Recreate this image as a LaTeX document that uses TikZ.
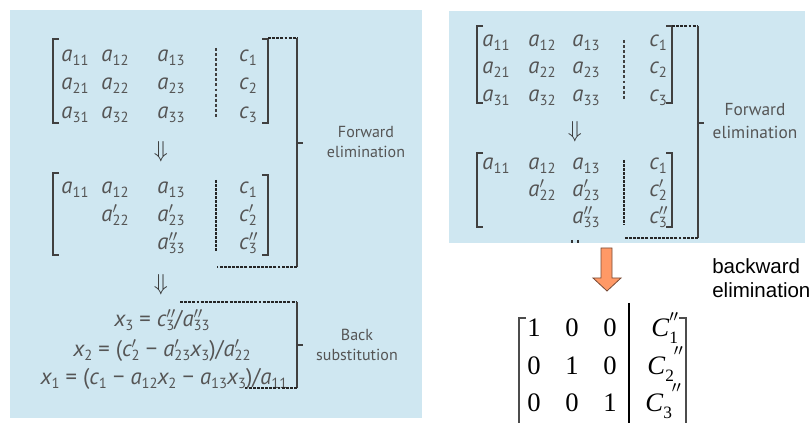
\documentclass[tikz,border=0pt]{standalone}
\usepackage{fontspec}
\setsansfont{PT Sans}
\newfontfamily\arialfam{Liberation Sans}
\newfontfamily\timesfam{Liberation Serif}
\usetikzlibrary{positioning}
\definecolor{panelblue}{RGB}{207,231,241}
\definecolor{inkgray}{RGB}{85,85,85}
\definecolor{arrowfill}{RGB}{255,153,102}
\definecolor{arrowline}{RGB}{120,75,55}
% lowered index and entry with optional prime
\newcommand{\lo}[1]{\raisebox{-0.35ex}{\fontsize{11}{11}\selectfont #1}}
\newcommand{\ent}[3][]{{\itshape #2}\rlap{$^{#1}$}\lo{#3}}
\tikzset{
  ent/.style={font=\sffamily\fontsize{17}{20}\selectfont, text=inkgray, inner sep=0pt, anchor=base},
  lbl/.style={font=\sffamily\fontsize{12}{15}\selectfont, text=inkgray, align=center},
  dn/.style={text=black!80, font=\fontsize{17}{17}\selectfont, inner sep=0pt},
  brk/.style={draw=black!75, line width=1.3pt},
  sep/.style={draw=black!75, line width=0.8pt, dash pattern=on 2.2pt off 1.6pt},
  sepb/.style={draw=black!85, line width=1.2pt, dash pattern=on 2pt off 1pt},
  dots/.style={draw=black!85, line width=1.3pt, dash pattern=on 2.2pt off 0.9pt},
  fin/.style={font=\timesfam\fontsize{20}{24}\selectfont, inner sep=0pt, anchor=base}
}
\begin{document}
\begin{tikzpicture}[x=0.75pt,y=-0.75pt]
\useasboundingbox (0,0) rectangle (810,423);
\fill[panelblue] (10,10) rectangle (422,418);
\fill[panelblue] (449,11) rectangle (805,243);

% ---- left: forward elimination
\foreach \r/\y in {1/62,2/90,3/119}{
  \node[ent] (La\r1) at (75,\y)  {\ent{a}{\r1}};
  \node[ent] (La\r2) at (115,\y) {\ent{a}{\r2}};
  \node[ent] (La\r3) at (171,\y) {\ent{a}{\r3}};
  \node[ent] (Lc\r)  at (248,\y) {\ent{c}{\r}};
}
\draw[brk] (59,39) -- (53,39) -- (53,123) -- (59,123);
\draw[brk] (262,39) -- (268,39) -- (268,123) -- (262,123);
\draw[sep] (216,48) -- (216,117);

\node[dn] (Ldown1) at (161,152) {$\Downarrow$};

\node[ent] (Lb11) at (75,194)  {\ent{a}{11}};
\node[ent] (Lb12) at (115,194) {\ent{a}{12}};
\node[ent] (Lb13) at (171,194) {\ent{a}{13}};
\node[ent] (Ld1)  at (248,194) {\ent{c}{1}};
\node[ent] (Lb22) at (115,222) {\ent[\prime]{a}{22}};
\node[ent] (Lb23) at (171,222) {\ent[\prime]{a}{23}};
\node[ent] (Ld2)  at (248,222) {\ent[\prime]{c}{2}};
\node[ent] (Lb33) at (171,250) {\ent[\prime\prime]{a}{33}};
\node[ent] (Ld3)  at (248,250) {\ent[\prime\prime]{c}{3}};
\draw[brk] (59,173) -- (53,173) -- (53,255) -- (59,255);
\draw[brk] (262,175) -- (268,175) -- (268,255) -- (262,255);
\draw[sepb] (216,180) -- (216,251);

\coordinate (fwdtop) at (297,38);
\coordinate (fwdbot) at (297,267);
\coordinate (fwdmid) at (297,143);
\draw[dots] (268,38) -- (fwdtop);
\draw[brk] (fwdtop) -- (fwdbot);
\draw[dots] (fwdbot) -- (217,267);
\draw[brk] (fwdmid) -- ++(6,0);
\node[lbl] (Lfwd) at (366,142) {Forward\\elimination};

% ---- left: back substitution
\node[dn] (Ldown2) at (161,285) {$\Downarrow$};
\node[ent] (eq3) at (162,327) {\ent{x}{3} = \ent[\prime\prime]{c}{3}/\ent[\prime\prime]{a}{33}};
\node[ent] (eq2) at (162,357) {\ent{x}{2} = (\ent[\prime]{c}{2} − \ent[\prime]{a}{23}\ent{x}{3})/\ent[\prime]{a}{22}};
\node[ent] (eq1) at (164,385) {\ent{x}{1} = (\ent{c}{1} − \ent{a}{12}\ent{x}{2} − \ent{a}{13}\ent{x}{3})/\ent{a}{11}};
\coordinate (bcktop) at (297,302);
\coordinate (bckbot) at (297,388);
\coordinate (bckmid) at (297,345);
\draw[dots] (180,302) -- (bcktop);
\draw[brk] (bcktop) -- (bckbot);
\draw[dots] (bckbot) -- (245,388);
\draw[brk] (bckmid) -- ++(6,0);
\node[lbl] (Lbck) at (357,345) {Back\\substitution};

% ---- right: forward elimination again
\foreach \r/\y in {1/47,2/74,3/102}{
  \node[ent] (Ra\r1) at (496,\y) {\ent{a}{\r1}};
  \node[ent] (Ra\r2) at (542,\y) {\ent{a}{\r2}};
  \node[ent] (Ra\r3) at (586,\y) {\ent{a}{\r3}};
  \node[ent] (Rc\r)  at (658,\y) {\ent{c}{\r}};
}
\draw[brk] (483,26) -- (477,26) -- (477,103) -- (483,103);
\draw[brk] (666,26) -- (672,26) -- (672,103) -- (666,103);
\draw[sep] (624,40) -- (624,100);

\node[dn] (Rdown1) at (575,132) {$\Downarrow$};

\node[ent] (Rb11) at (496,170) {\ent{a}{11}};
\node[ent] (Rb12) at (542,170) {\ent{a}{12}};
\node[ent] (Rb13) at (586,170) {\ent{a}{13}};
\node[ent] (Rd1)  at (658,170) {\ent{c}{1}};
\node[ent] (Rb22) at (542,197) {\ent[\prime]{a}{22}};
\node[ent] (Rb23) at (586,197) {\ent[\prime]{a}{23}};
\node[ent] (Rd2)  at (658,197) {\ent[\prime]{c}{2}};
\node[ent] (Rb33) at (586,224) {\ent[\prime\prime]{a}{33}};
\node[ent] (Rd3)  at (658,224) {\ent[\prime\prime]{c}{3}};
\draw[brk] (483,153) -- (477,153) -- (477,227) -- (483,227);
\draw[brk] (666,153) -- (672,153) -- (672,227) -- (666,227);
\draw[sepb] (624,160) -- (624,225);
\draw[draw=black!80, line width=0.8pt] (572,240) -- (572,243) (578,240) -- (578,243);

\coordinate (rfwdtop) at (698,26);
\coordinate (rfwdbot) at (698,238);
\coordinate (rfwdmid) at (698,123);
\draw[dots] (672,26) -- (rfwdtop);
\draw[brk] (rfwdtop) -- (rfwdbot);
\draw[dots] (rfwdbot) -- (625,238);
\draw[brk] (rfwdmid) -- ++(6,0);
\node[lbl, font=\sffamily\fontsize{13}{17}\selectfont] (Rfwd) at (755,121) {Forward\\elimination};

% ---- orange arrow and reduced matrix
\filldraw[fill=arrowfill, draw=arrowline, line width=0.6pt]
  (601,248) -- (612,248) -- (612,278) -- (621,278) -- (607,291) -- (593,278) -- (601,278) -- cycle;
\node[font=\arialfam\fontsize{15.4}{18}\selectfont, inner sep=0pt, anchor=base west] (bwd1) at (712,274) {backward};
\node[font=\arialfam\fontsize{15.4}{18}\selectfont, inner sep=0pt, anchor=base west] (bwd2) at (712,298) {elimination};

\foreach \r/\y/\p/\q/\s in {1/337/1/0/0,2/375/0/1/0,3/412/0/0/1}{
  \node[fin] (f\r1) at (534,\y) {\p};
  \node[fin] (f\r2) at (572,\y) {\q};
  \node[fin] (f\r3) at (610,\y) {\s};
}
\node[fin, anchor=base west] (C1) at (651,337)
  {\textit{C}\rlap{\raisebox{1.3ex}{\fontsize{13}{13}\selectfont$\prime\prime$}}\raisebox{-0.5ex}{\fontsize{13}{13}\selectfont 1}};
\node[fin, anchor=base west] (C2) at (647,375)
  {\textit{C}\raisebox{-0.5ex}{\fontsize{13}{13}\selectfont 2}\raisebox{1.6ex}{\fontsize{13}{13}\selectfont$\prime\prime$}};
\node[fin, anchor=base west] (C3) at (645,412)
  {\textit{C}\raisebox{-0.5ex}{\fontsize{13}{13}\selectfont 3}\raisebox{1.6ex}{\fontsize{13}{13}\selectfont$\prime\prime$}};
\draw[draw=black!70, line width=0.9pt] (526,318) -- (519,318) -- (519,430);
\draw[draw=black!70, line width=0.9pt] (679,318) -- (686,318) -- (686,430);
\draw[line width=1.5pt] (629,303) -- (629,430);
\end{tikzpicture}
\end{document}
